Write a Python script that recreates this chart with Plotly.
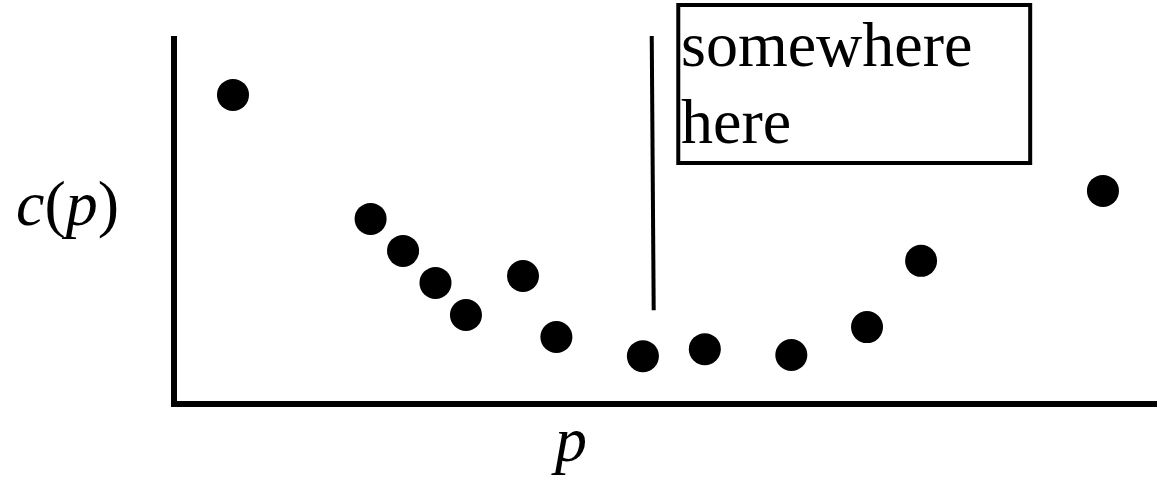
import plotly.graph_objects as go

# data (arbitrary units, x and y in [0,10])
p_vals = [0.60, 2.00, 2.33, 2.66, 2.97, 3.55, 3.89, 4.77, 5.40, 6.28, 7.05, 7.60, 9.45]
c_vals = [8.40, 5.03, 4.16, 3.29, 2.42, 3.48, 1.82, 1.30, 1.49, 1.33, 2.09, 3.89, 5.79]

marker_line_top = (4.86, 10.0)
marker_line_bottom = (4.88, 2.55)

box_text_lines = ["somewhere", "here"]
x_label = "<i>p</i>"
y_label = "<i>c</i>(<i>p</i>)"

SERIF = "Liberation Serif, Times New Roman, serif"

fig = go.Figure()
fig.add_trace(go.Scatter(
    x=p_vals, y=c_vals, mode="markers",
    marker=dict(size=32, color="black"),
    hoverinfo="skip", showlegend=False,
))

shapes = [
    # y axis line
    dict(type="line", xref="paper", yref="paper", x0=0, x1=0, y0=1, y1=-0.008,
         line=dict(color="black", width=6)),
    # x axis line
    dict(type="line", xref="paper", yref="paper", x0=-0.003, x1=1, y0=0, y1=0,
         line=dict(color="black", width=6)),
    # vertical marker line
    dict(type="line", xref="x", yref="y",
         x0=marker_line_top[0], y0=marker_line_top[1],
         x1=marker_line_bottom[0], y1=marker_line_bottom[1],
         line=dict(color="black", width=4)),
    # text box
    dict(type="rect", xref="paper", yref="paper", x0=0.513, x1=0.871, y0=0.655, y1=1.084,
         line=dict(color="black", width=4), fillcolor="rgba(0,0,0,0)"),
]

annotations = [
    dict(text=box_text_lines[0], xref="paper", yref="paper", x=0.514, y=0.976,
         xanchor="left", yanchor="middle", showarrow=False,
         font=dict(family=SERIF, size=64, color="black")),
    dict(text=box_text_lines[1], xref="paper", yref="paper", x=0.514, y=0.767,
         xanchor="left", yanchor="middle", showarrow=False,
         font=dict(family=SERIF, size=64, color="black")),
    dict(text=y_label, xref="paper", yref="paper", x=-0.163, y=0.545,
         xanchor="left", yanchor="middle", showarrow=False,
         font=dict(family=SERIF, size=64, color="black")),
    dict(text=x_label, xref="paper", yref="paper", x=0.402, y=-0.097,
         xanchor="center", yanchor="middle", showarrow=False,
         font=dict(family=SERIF, size=64, color="black")),
]

fig.update_layout(
    width=1157, height=486,
    margin=dict(l=174, r=0, t=36, b=82),
    paper_bgcolor="white", plot_bgcolor="white",
    xaxis=dict(range=[0, 10], visible=False),
    yaxis=dict(range=[0, 10], visible=False),
    shapes=shapes, annotations=annotations,
)

fig.write_html(
    "out.html",
    config={"displayModeBar": False},
    post_script="document.body.style.margin='0';document.body.style.overflow='hidden';",
)
